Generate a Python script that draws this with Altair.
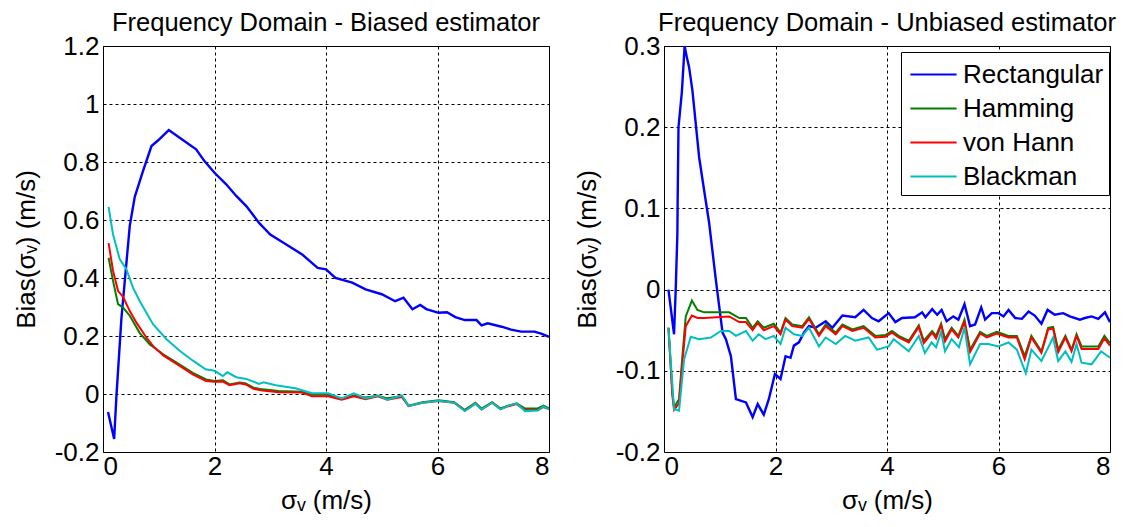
import altair as alt
import pandas as pd

NAMES = ["Rectangular", "Hamming", "von Hann", "Blackman"]
COLORS = ["#0000ff", "#008000", "#ff0000", "#00bfbf"]

# ---------------- Left panel: biased estimator ----------------
L_RECT_X = [0.09, 0.2, 0.24, 0.33, 0.48, 0.57, 0.72, 0.87, 0.99, 1.18,
            1.375, 1.67, 1.82, 2.0, 2.21, 2.39, 2.57, 2.8, 3.0, 3.28,
            3.58, 3.85, 4.0, 4.17, 4.47, 4.71, 5.0, 5.24, 5.39, 5.55,
            5.69, 5.8, 6.02, 6.17, 6.32, 6.49, 6.7, 6.79, 6.9, 7.15,
            7.32, 7.5, 7.74, 7.86, 8.0]
L_RECT_Y = [-0.062, -0.155, -0.01, 0.26, 0.58, 0.68, 0.77, 0.855, 0.875, 0.91,
            0.884, 0.844, 0.803, 0.763, 0.723, 0.683, 0.648, 0.59, 0.55, 0.516,
            0.48, 0.435, 0.43, 0.4, 0.384, 0.361, 0.344, 0.32, 0.332, 0.292,
            0.307, 0.293, 0.28, 0.282, 0.265, 0.255, 0.255, 0.237, 0.244, 0.232,
            0.222, 0.215, 0.215, 0.208, 0.197]

L_HAMM_X = [0.1, 0.18, 0.27, 0.36, 0.48, 0.66, 0.84, 1.08, 1.32, 1.61,
            1.85, 2.0, 2.15, 2.27, 2.45, 2.56, 2.7, 2.86, 3.15, 3.57,
            3.75, 4.04, 4.28, 4.5, 4.71, 4.93, 5.1, 5.36, 5.48, 5.73,
            6.02, 6.3, 6.49, 6.68, 6.79, 6.98, 7.13, 7.27, 7.42, 7.57,
            7.8, 7.9, 8.0]
L_HAMM_Y = [0.47, 0.39, 0.31, 0.298, 0.27, 0.21, 0.171, 0.137, 0.108, 0.073,
            0.05, 0.045, 0.047, 0.033, 0.04, 0.036, 0.022, 0.016, 0.01, 0.008,
            -0.003, -0.003, -0.015, -0.005, -0.012, -0.006, -0.015, -0.007, -0.04, -0.028,
            -0.022, -0.028, -0.055, -0.03, -0.05, -0.028, -0.05, -0.04, -0.032, -0.05,
            -0.05, -0.04, -0.05]

L_HANN_X = [0.1, 0.18, 0.27, 0.36, 0.48, 0.6, 0.78, 0.9, 1.08, 1.32,
            1.61, 1.85, 2.0, 2.15, 2.27, 2.45, 2.56, 2.7, 2.86, 3.15,
            3.57, 3.75, 4.04, 4.28, 4.5, 4.71, 4.93, 5.1, 5.36, 5.48,
            5.73, 6.02, 6.3, 6.49, 6.68, 6.79, 6.98, 7.13, 7.27, 7.42,
            7.57, 7.8, 7.9, 8.0]
L_HANN_Y = [0.52, 0.425, 0.355, 0.335, 0.286, 0.246, 0.194, 0.165, 0.133, 0.104,
            0.068, 0.045, 0.042, 0.043, 0.03, 0.037, 0.033, 0.018, 0.012, 0.006,
            0.005, -0.008, -0.008, -0.02, -0.008, -0.018, -0.008, -0.02, -0.01, -0.042,
            -0.03, -0.024, -0.03, -0.057, -0.033, -0.053, -0.03, -0.052, -0.042, -0.035,
            -0.055, -0.055, -0.045, -0.052]

L_BLACK_X = [0.1, 0.18, 0.3, 0.42, 0.54, 0.66, 0.9, 1.14, 1.38, 1.62,
             1.84, 2.0, 2.15, 2.23, 2.39, 2.57, 2.8, 2.88, 3.1, 3.45,
             3.75, 4.04, 4.28, 4.5, 4.71, 4.93, 5.1, 5.36, 5.48, 5.73,
             6.02, 6.3, 6.49, 6.68, 6.79, 6.98, 7.13, 7.27, 7.42, 7.57,
             7.8, 7.9, 8.0]
L_BLACK_Y = [0.645, 0.55, 0.465, 0.43, 0.366, 0.32, 0.24, 0.189, 0.148, 0.114,
             0.085, 0.08, 0.062, 0.075, 0.058, 0.052, 0.035, 0.04, 0.03, 0.02,
             0.003, 0.003, -0.015, 0.002, -0.015, -0.005, -0.02, -0.005, -0.041, -0.03,
             -0.023, -0.03, -0.059, -0.033, -0.053, -0.03, -0.053, -0.04, -0.033, -0.059,
             -0.057, -0.043, -0.053]

# ---------------- Right panel: unbiased estimator ----------------
R_RECT_X = [0.08, 0.18, 0.21, 0.24, 0.245, 0.26, 0.32, 0.37, 0.41, 0.45,
            0.51, 0.57, 0.63, 0.72, 0.81, 0.93, 1.05, 1.11, 1.2, 1.29,
            1.47, 1.59, 1.68, 1.79, 1.88, 1.99, 2.09, 2.18, 2.27, 2.33,
            2.42, 2.51, 2.6, 2.72, 2.9, 3.02, 3.2, 3.43, 3.58, 3.73,
            3.85, 4.03, 4.15, 4.27, 4.5, 4.63, 4.69, 4.81, 4.9, 4.98,
            5.07, 5.19, 5.28, 5.39, 5.49, 5.58, 5.69, 5.76, 5.88, 6.0,
            6.09, 6.18, 6.3, 6.42, 6.54, 6.65, 6.77, 6.88, 7.01, 7.16,
            7.28, 7.46, 7.55, 7.67, 7.79, 7.91, 8.0]
R_RECT_Y = [0.0, -0.055, 0.0, 0.069, 0.11, 0.2, 0.243, 0.3, 0.286, 0.274,
            0.245, 0.204, 0.163, 0.122, 0.082, 0.012, -0.053, -0.061, -0.082, -0.135,
            -0.139, -0.157, -0.141, -0.154, -0.135, -0.104, -0.11, -0.082, -0.084, -0.069,
            -0.065, -0.053, -0.045, -0.047, -0.039, -0.047, -0.032, -0.034, -0.025, -0.035,
            -0.039, -0.029, -0.04, -0.035, -0.034, -0.028, -0.034, -0.024, -0.031, -0.025,
            -0.039, -0.033, -0.037, -0.018, -0.045, -0.043, -0.022, -0.037, -0.029, -0.029,
            -0.033, -0.025, -0.035, -0.036, -0.027, -0.032, -0.042, -0.025, -0.031, -0.029,
            -0.033, -0.037, -0.035, -0.033, -0.036, -0.028, -0.04]

R_HW_X = [0.08, 0.15, 0.18, 0.27, 0.33, 0.39, 0.5, 0.6, 0.72, 1.17,
          1.35, 1.47, 1.59, 1.68, 1.79, 1.97, 2.09, 2.18, 2.3, 2.48,
          2.6, 2.78, 2.9, 3.08, 3.2, 3.38, 3.58, 3.79, 3.97, 4.09,
          4.21, 4.39, 4.57, 4.66, 4.81, 4.88, 4.97, 5.04, 5.16, 5.28,
          5.39, 5.49, 5.67, 5.79, 5.97, 6.18, 6.33, 6.47, 6.59, 6.77,
          6.89, 6.98, 7.07, 7.2, 7.31, 7.4, 7.49, 7.79, 7.9, 8.0]
R_HAMM_Y = [-0.047, -0.127, -0.145, -0.135, -0.082, -0.033, -0.0135, -0.025, -0.028, -0.028,
            -0.035, -0.035, -0.047, -0.039, -0.047, -0.042, -0.053, -0.035, -0.043, -0.045,
            -0.034, -0.055, -0.043, -0.053, -0.043, -0.049, -0.045, -0.057, -0.056, -0.051,
            -0.057, -0.063, -0.044, -0.063, -0.051, -0.057, -0.042, -0.061, -0.047, -0.057,
            -0.037, -0.074, -0.052, -0.057, -0.052, -0.057, -0.057, -0.082, -0.057, -0.076,
            -0.047, -0.046, -0.074, -0.057, -0.074, -0.055, -0.07, -0.07, -0.057, -0.066]
R_HANN_Y = [-0.047, -0.13, -0.148, -0.14, -0.09, -0.045, -0.032, -0.035, -0.035, -0.033,
            -0.04, -0.04, -0.05, -0.041, -0.05, -0.045, -0.055, -0.037, -0.045, -0.047,
            -0.036, -0.057, -0.045, -0.055, -0.045, -0.051, -0.047, -0.059, -0.058, -0.053,
            -0.059, -0.065, -0.046, -0.066, -0.053, -0.06, -0.044, -0.064, -0.049, -0.059,
            -0.04, -0.077, -0.054, -0.059, -0.054, -0.059, -0.059, -0.086, -0.059, -0.078,
            -0.049, -0.048, -0.077, -0.059, -0.076, -0.057, -0.073, -0.073, -0.06, -0.069]

R_BLACK_X = [0.08, 0.18, 0.27, 0.36, 0.48, 0.63, 0.84, 1.02, 1.17, 1.29,
             1.47, 1.59, 1.7, 1.82, 1.97, 2.09, 2.18, 2.33, 2.48, 2.6,
             2.78, 2.9, 3.08, 3.25, 3.43, 3.67, 3.82, 4.03, 4.12, 4.39,
             4.57, 4.68, 4.8, 4.88, 4.97, 5.04, 5.16, 5.29, 5.39, 5.49,
             5.67, 5.82, 6.0, 6.18, 6.33, 6.49, 6.59, 6.77, 6.98, 7.07,
             7.2, 7.31, 7.4, 7.49, 7.67, 7.84, 8.0]
R_BLACK_Y = [-0.047, -0.147, -0.149, -0.086, -0.058, -0.061, -0.059, -0.051, -0.051, -0.057,
             -0.051, -0.063, -0.055, -0.061, -0.057, -0.067, -0.047, -0.055, -0.057, -0.047,
             -0.07, -0.059, -0.067, -0.057, -0.063, -0.059, -0.074, -0.07, -0.061, -0.076,
             -0.057, -0.078, -0.065, -0.071, -0.052, -0.076, -0.061, -0.071, -0.047, -0.092,
             -0.067, -0.067, -0.07, -0.065, -0.074, -0.103, -0.074, -0.088, -0.059, -0.088,
             -0.076, -0.089, -0.067, -0.09, -0.092, -0.076, -0.084]

X_TICKS = [0, 2, 4, 6, 8]
L_Y_TICKS = [-0.2, 0, 0.2, 0.4, 0.6, 0.8, 1, 1.2]
R_Y_TICKS = [-0.2, -0.1, 0, 0.1, 0.2, 0.3]

FONT = "Liberation Sans"
FS = 26
TITLE_FS = 25.5

series_data = {
    "left": [("Rectangular", L_RECT_X, L_RECT_Y), ("Hamming", L_HAMM_X, L_HAMM_Y),
             ("von Hann", L_HANN_X, L_HANN_Y), ("Blackman", L_BLACK_X, L_BLACK_Y)],
    "right": [("Rectangular", R_RECT_X, R_RECT_Y), ("Hamming", R_HW_X, R_HAMM_Y),
              ("von Hann", R_HW_X, R_HANN_Y), ("Blackman", R_BLACK_X, R_BLACK_Y)],
}
rows = []
for panel_name, lst in series_data.items():
    for name, xs, ys in lst:
        for i, (xv, yv) in enumerate(zip(xs, ys)):
            rows.append({"panel": panel_name, "series": name, "x": xv, "y": yv, "i": i})
df = pd.DataFrame(rows)

LABEL_EXPR = "'' + datum.value"


def make_panel(pname, title, ydom, yticks, show_legend):
    if show_legend:
        legend = alt.Legend(
            title=None, orient="none", legendX=237, legendY=6,
            strokeColor="black", fillColor="white", padding=5,
            symbolType="M-1.4,0H1.4", symbolSize=1089, symbolStrokeWidth=2,
            symbolOffset=10, labelOffset=12, rowPadding=3,
            labelFont=FONT, labelFontSize=FS, labelColor="black",
        )
    else:
        legend = None
    layers = []
    for name in NAMES:
        layers.append(
            alt.Chart(df)
            .transform_filter((alt.datum.panel == pname) & (alt.datum.series == name))
            .mark_line(strokeWidth=2.4 if name == "Rectangular" else 2, clip=True)
            .encode(
                x=alt.X("x:Q", scale=alt.Scale(domain=[0, 8], nice=False, zero=False),
                        axis=alt.Axis(values=X_TICKS, labelExpr=LABEL_EXPR),
                        title="σᵥ (m/s)"),
                y=alt.Y("y:Q", scale=alt.Scale(domain=ydom, nice=False, zero=False),
                        axis=alt.Axis(values=yticks, labelExpr=LABEL_EXPR),
                        title="Bias(σᵥ) (m/s)"),
                color=alt.Color("series:N", scale=alt.Scale(domain=NAMES, range=COLORS),
                                legend=legend),
                order="i:Q",
            )
        )
    return alt.layer(*layers).properties(
        width=446, height=406,
        title=alt.TitleParams(title, font=FONT, fontSize=TITLE_FS, fontWeight="normal",
                              color="black", anchor="middle", offset=-3),
    )


left = make_panel("left", "Frequency Domain - Biased estimator", [-0.2, 1.2], L_Y_TICKS, False)
right = make_panel("right", "Frequency Domain - Unbiased estimator", [-0.2, 0.3], R_Y_TICKS, True)

chart = (
    alt.hconcat(left, right, spacing=23)
    .resolve_scale(color="independent")
    .properties(padding={"left": 4, "top": 2, "right": 0, "bottom": 0}, background="white")
    .configure_view(stroke="black", strokeWidth=1)
    .configure_axis(
        domain=False, ticks=False,
        grid=True, gridColor="black", gridDash=[3, 3], gridWidth=1, gridOpacity=1,
        labelFont=FONT, labelFontSize=FS, labelColor="black", labelPadding=4,
        titleFont=FONT, titleFontSize=FS, titleFontWeight="normal", titleColor="black",
        titlePadding=15,
    )
    .configure_axisX(labelPadding=1, titlePadding=8)
)

chart.save("out.html", embed_options={"renderer": "svg", "actions": False})
